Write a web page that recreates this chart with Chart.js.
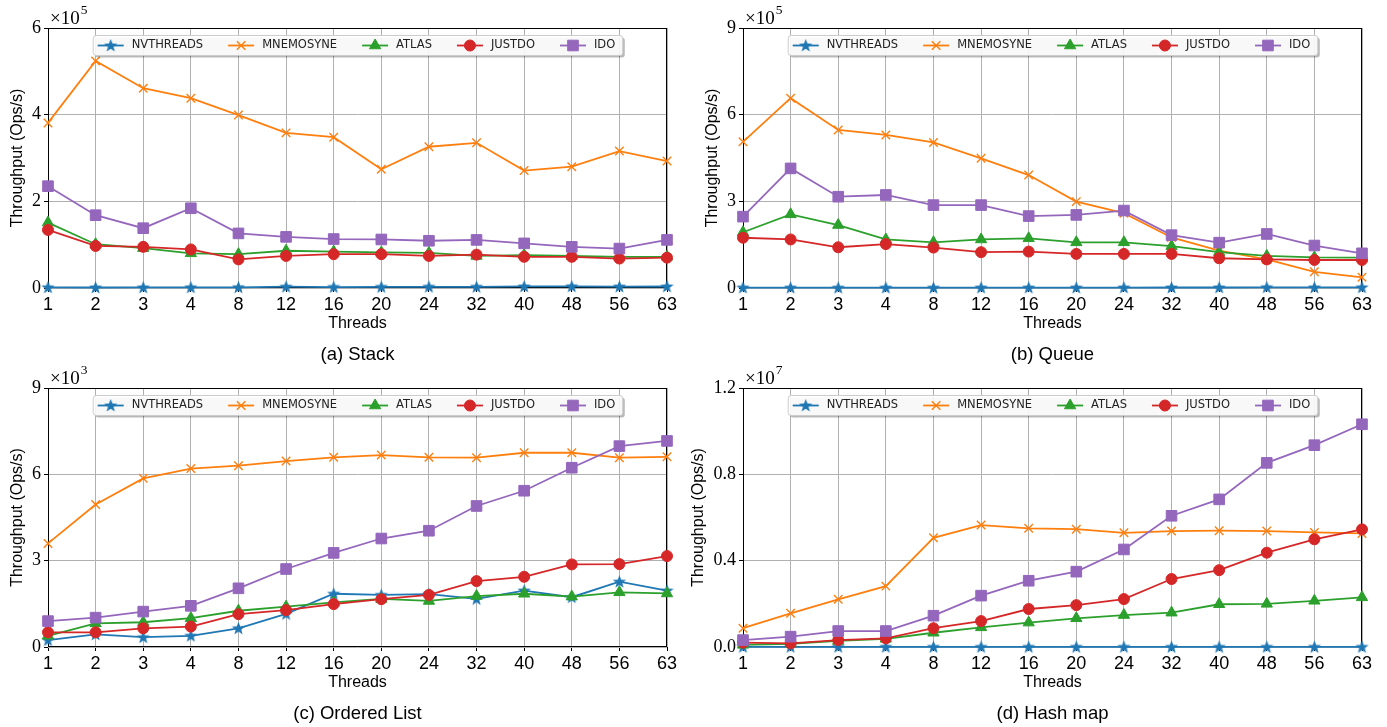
<!DOCTYPE html>
<html>
<head>
<meta charset="utf-8">
<script src="https://cdn.jsdelivr.net/npm/chart.js@4/dist/chart.umd.min.js"></script>
<style>
  html, body { margin: 0; padding: 0; background: #fff; }
  body { width: 1387px; height: 727px; position: relative; overflow: hidden; }
  canvas { position: absolute; }
</style>
</head>
<body>
<canvas id="cA"></canvas>
<canvas id="cB"></canvas>
<canvas id="cC"></canvas>
<canvas id="cD"></canvas>
<script>
// ---- data ----
const threads = ['1', '2', '3', '4', '8', '12', '16', '20', '24', '32', '40', '48', '56', '63'];
const seriesNames = ['NVTHREADS', 'MNEMOSYNE', 'ATLAS', 'JUSTDO', 'IDO'];

// (a) Stack
const stackNv     = [1500, 1200, 1300, 1500, 1600, 3000, 2200, 2500, 2800, 2600, 3600, 3800, 3300, 3500];
const stackMnemo  = [381000, 524000, 461000, 438000, 399000, 358000, 348000, 274000, 326000, 335000, 271000, 280000, 316000, 293000];
const stackAtlas  = [151000, 101000, 92000, 80000, 78000, 86000, 84000, 82000, 81000, 74000, 76000, 74000, 72000, 72000];
const stackJustdo = [134000, 97000, 95000, 89000, 66000, 74000, 78000, 78000, 74000, 77000, 72000, 72000, 68000, 70000];
const stackIdo    = [235000, 168000, 138000, 184000, 126000, 118000, 113000, 112000, 109000, 111000, 103000, 95000, 91000, 111000];

// (b) Queue
const queueNv     = [1500, 1200, 1000, 1200, 1000, 1300, 1400, 1500, 1600, 1700, 1800, 2500, 2000, 2200];
const queueMnemo  = [506000, 657000, 547000, 530000, 504000, 449000, 391000, 299000, 259000, 175000, 129000, 99000, 56000, 37000];
const queueAtlas  = [193000, 255000, 218000, 168000, 158000, 168000, 172000, 158000, 158000, 145000, 124000, 111000, 106000, 105000];
const queueJustdo = [174000, 168000, 141000, 152000, 140000, 124000, 126000, 118000, 118000, 118000, 103000, 99000, 97000, 97000];
const queueIdo    = [247000, 414000, 316000, 322000, 287000, 287000, 249000, 253000, 268000, 183000, 157000, 187000, 147000, 120000];

// (c) Ordered List
const listNv     = [240, 440, 340, 390, 650, 1150, 1850, 1810, 1840, 1670, 1960, 1730, 2270, 1960];
const listMnemo  = [3600, 4950, 5860, 6200, 6300, 6460, 6590, 6670, 6590, 6580, 6750, 6750, 6580, 6610];
const listAtlas  = [390, 820, 860, 1000, 1260, 1400, 1550, 1670, 1600, 1770, 1850, 1750, 1900, 1860];
const listJustdo = [510, 510, 650, 710, 1140, 1280, 1490, 1660, 1810, 2290, 2440, 2870, 2880, 3160];
const listIdo    = [900, 1020, 1230, 1430, 2040, 2710, 3270, 3770, 4040, 4900, 5430, 6230, 6980, 7160];

// (d) Hash map
const hashNv     = [8000, 7000, 6000, 6000, 5000, 5000, 5000, 5000, 5000, 5000, 5000, 5000, 5000, 5000];
const hashMnemo  = [870000, 1560000, 2210000, 2820000, 5060000, 5650000, 5500000, 5460000, 5290000, 5370000, 5390000, 5370000, 5310000, 5260000];
const hashAtlas  = [100000, 150000, 280000, 380000, 660000, 910000, 1130000, 1330000, 1480000, 1590000, 1980000, 2000000, 2140000, 2300000];
const hashJustdo = [200000, 170000, 320000, 400000, 870000, 1200000, 1760000, 1940000, 2220000, 3150000, 3560000, 4370000, 4990000, 5450000];
const hashIdo    = [320000, 480000, 740000, 740000, 1450000, 2380000, 3070000, 3490000, 4520000, 6080000, 6840000, 8530000, 9350000, 10320000];

// y ticks
const yTicksA = ['0', '2', '4', '6'];
const yTicksB = ['0', '3', '6', '9'];
const yTicksC = ['0', '3', '6', '9'];
const yTicksD = ['0.0', '0.4', '0.8', '1.2'];

const colors = ['#1f77b4', '#ff7f0e', '#2ca02c', '#d62728', '#9467bd'];

// filled star marker for NVTHREADS
function starMarker(color) {
  const c = document.createElement('canvas');
  c.width = 15; c.height = 15;
  const g = c.getContext('2d');
  g.fillStyle = color;
  g.beginPath();
  for (let k = 0; k < 10; k++) {
    const r = k % 2 === 0 ? 7 : 2.9;
    const a = -Math.PI / 2 + k * Math.PI / 5;
    const px = 7.5 + r * Math.cos(a), py = 7.9 + r * Math.sin(a);
    if (k === 0) g.moveTo(px, py); else g.lineTo(px, py);
  }
  g.closePath();
  g.fill();
  return c;
}

const markers = [starMarker(colors[0]), 'crossRot', 'triangle', 'circle', 'rect'];
const radii = [6, 6, 6.5, 5.5, 7.5];

function makeDatasets(values) {
  return seriesNames.map((name, i) => ({
    label: name,
    data: values[i],
    borderColor: colors[i],
    backgroundColor: colors[i],
    pointBackgroundColor: colors[i],
    pointBorderColor: colors[i],
    pointStyle: markers[i],
    pointRadius: radii[i],
    pointBorderWidth: i === 1 ? 1.4 : 1,
    borderWidth: 1.8,
    tension: 0,
    clip: false,
    order: 5 - i
  }));
}

function drawMarker(ctx, i, x, y) {
  ctx.fillStyle = colors[i];
  ctx.strokeStyle = colors[i];
  ctx.lineWidth = i === 1 ? 1.4 : 1;
  Chart.helpers.drawPoint(ctx, {pointStyle: markers[i], radius: radii[i], rotation: 0, borderWidth: ctx.lineWidth}, x, y);
}

function decor(p) {
  return {
    id: 'decor' + p.id,
    beforeDatasetsDraw(chart) {
      const ca = chart.chartArea, ctx = chart.ctx;
      ctx.save();
      ctx.strokeStyle = '#000';
      ctx.lineWidth = 1;
      ctx.strokeRect(Math.round(ca.left) + 0.5, Math.round(ca.top) + 0.5, Math.round(ca.right - ca.left) - 1, Math.round(ca.bottom - ca.top) - 1);
      ctx.restore();
    },
    afterDatasetsDraw(chart) {
      const ca = chart.chartArea, ctx = chart.ctx;
      ctx.save();
      ctx.font = '11.5px "DejaVu Sans"';
      const handle = 26, gapT = 8, gapI = 25, padL = 5, padR = 7, h = 20;
      const widths = seriesNames.map(n => ctx.measureText(n).width);
      let total = padL + padR + gapI * (seriesNames.length - 1);
      widths.forEach(w => { total += handle + gapT + w; });
      const x0 = (ca.left + ca.right) / 2 - total / 2, y0 = ca.top + 7;
      // shadow
      ctx.fillStyle = 'rgba(0,0,0,0.28)';
      ctx.beginPath(); ctx.roundRect(x0 + 2.5, y0 + 2.5, total, h, 3); ctx.fill();
      ctx.fillStyle = 'rgba(255,255,255,0.9)';
      ctx.strokeStyle = '#cccccc';
      ctx.lineWidth = 1;
      ctx.beginPath(); ctx.roundRect(x0 + 0.5, y0 + 0.5, total, h, 3); ctx.fill(); ctx.stroke();
      let x = x0 + padL;
      const ym = y0 + h / 2 + 0.5;
      seriesNames.forEach((n, i) => {
        ctx.strokeStyle = colors[i];
        ctx.lineWidth = 1.8;
        ctx.beginPath(); ctx.moveTo(x, ym); ctx.lineTo(x + handle, ym); ctx.stroke();
        drawMarker(ctx, i, x + handle / 2, ym);
        ctx.fillStyle = '#222';
        ctx.textAlign = 'left';
        ctx.textBaseline = 'middle';
        ctx.fillText(n, x + handle + gapT, ym);
        x += handle + gapT + widths[i] + gapI;
      });
      ctx.restore();
    },
    afterDraw(chart) {
      const ca = chart.chartArea, ctx = chart.ctx;
      const cx = (ca.left + ca.right) / 2;
      ctx.save();
      ctx.fillStyle = '#000';
      // y title
      ctx.save();
      ctx.translate(p.titleX, (ca.top + ca.bottom) / 2);
      ctx.rotate(-Math.PI / 2);
      ctx.font = '16px "Liberation Sans"';
      ctx.textAlign = 'center';
      ctx.textBaseline = 'middle';
      ctx.fillText('Throughput (Ops/s)', 0, 0);
      ctx.restore();
      // exponent
      ctx.font = '19px "Liberation Serif"';
      ctx.textAlign = 'left';
      ctx.textBaseline = 'alphabetic';
      const base = '\u00d710';
      ctx.fillText(base, ca.left + 2, ca.top - 4);
      const bw = ctx.measureText(base).width;
      ctx.font = '13.5px "Liberation Serif"';
      ctx.fillText(p.exp, ca.left + 3 + bw, ca.top - 14);
      // x title + caption
      ctx.font = '16px "Liberation Sans"';
      ctx.textAlign = 'center';
      ctx.textBaseline = 'middle';
      ctx.fillText('Threads', cx, ca.bottom + 36);
      ctx.font = '18.5px "Liberation Sans"';
      ctx.fillText(p.caption, cx, ca.bottom + 67);
      ctx.restore();
    }
  };
}

const panels = [
  {id: 'A', canvas: 'cA', left: 0,   top: 0,   w: 690, h: 365, padTop: 28, xh: 77, padRight: 23, yw: 48, titleX: 18,
   values: [stackNv, stackMnemo, stackAtlas, stackJustdo, stackIdo], max: 600000, step: 200000, ticks: yTicksA, exp: '5', caption: '(a) Stack'},
  {id: 'B', canvas: 'cB', left: 695, top: 0,   w: 692, h: 365, padTop: 28, xh: 77, padRight: 25, yw: 48, titleX: 18,
   values: [queueNv, queueMnemo, queueAtlas, queueJustdo, queueIdo], max: 900000, step: 300000, ticks: yTicksB, exp: '5', caption: '(b) Queue'},
  {id: 'C', canvas: 'cC', left: 0,   top: 365, w: 690, h: 362, padTop: 23, xh: 80, padRight: 23, yw: 48, titleX: 18,
   values: [listNv, listMnemo, listAtlas, listJustdo, listIdo], max: 9000, step: 3000, ticks: yTicksC, exp: '3', caption: '(c) Ordered List'},
  {id: 'D', canvas: 'cD', left: 685, top: 365, w: 702, h: 362, padTop: 23, xh: 80, padRight: 25, yw: 58, titleX: 14,
   values: [hashNv, hashMnemo, hashAtlas, hashJustdo, hashIdo], max: 12000000, step: 4000000, ticks: yTicksD, exp: '7', caption: '(d) Hash map'}
];

const gridOpts = {color: '#b0b0b0', lineWidth: 1, tickColor: '#000', tickLength: 4, drawTicks: true};

panels.forEach(p => {
  const cv = document.getElementById(p.canvas);
  cv.width = p.w; cv.height = p.h;
  cv.style.left = p.left + 'px';
  cv.style.top = p.top + 'px';
  cv.style.width = p.w + 'px';
  cv.style.height = p.h + 'px';
  new Chart(cv, {
    type: 'line',
    data: {labels: threads, datasets: makeDatasets(p.values)},
    options: {
      responsive: false,
      devicePixelRatio: 1,
      animation: false,
      layout: {padding: {top: p.padTop, right: p.padRight, left: 0, bottom: 0}},
      plugins: {legend: {display: false}, tooltip: {enabled: false}},
      scales: {
        x: {
          type: 'category',
          offset: false,
          grid: gridOpts,
          border: {display: false},
          ticks: {font: {family: 'Liberation Sans', size: 18}, color: '#000', padding: 2, maxRotation: 0, autoSkip: false},
          afterFit: s => { s.height = p.xh; s.paddingLeft = 0; s.paddingRight = 0; }
        },
        y: {
          min: 0,
          max: p.max,
          grid: gridOpts,
          border: {display: false},
          ticks: {stepSize: p.step, font: {family: 'Liberation Serif', size: 18}, color: '#000', padding: 3,
                  callback: (v, i) => p.ticks[i]},
          afterFit: s => { s.width = p.yw; s.paddingTop = 0; s.paddingBottom = 0; }
        }
      }
    },
    plugins: [decor(p)]
  });
});
</script>
</body>
</html>
